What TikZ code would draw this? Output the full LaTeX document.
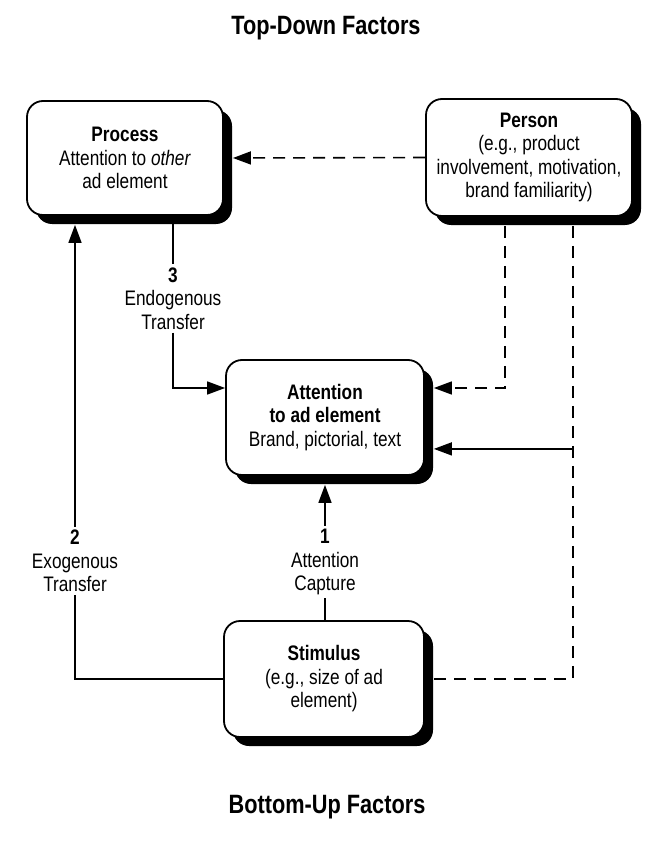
\documentclass[tikz,border=0pt]{standalone}
\usepackage{fontspec}
\setmainfont{Liberation Sans}[FakeStretch=0.82]
\usetikzlibrary{arrows.meta,shadows,calc}
\begin{document}
\begin{tikzpicture}[x=1pt,y=-1pt,
  font=\fontsize{21}{23.5}\selectfont,
  box/.style={draw, line width=1.8pt, rounded corners=16pt, fill=white, align=center, inner sep=0pt,
     drop shadow={shadow xshift=9pt, shadow yshift=-9pt, fill=black, opacity=1}},
  lab/.style={align=center, inner sep=3pt},
  conn/.style={line width=1.6pt},
  dconn/.style={line width=1.6pt, dash pattern=on 12pt off 8pt},
  tip/.style={-{Triangle[length=18pt,width=13pt]}},
  title/.style={font=\fontsize{26.5}{30}\selectfont\bfseries, anchor=base}]
\useasboundingbox (0,0) rectangle (647,842);
\node[title] (top) at (326,35) {Top-Down Factors};
\node[title] (bot) at (327,813) {Bottom-Up Factors};

\node[box, minimum width=196pt, minimum height=114pt] (proc) at (125,158)
  {\textbf{Process}\\Attention to \textit{other}\\ad element};
\node[box, minimum width=206pt, minimum height=117pt] (pers) at (529,157.5)
  {\textbf{Person}\\(e.g., product\\involvement, motivation,\\brand familiarity)};
\node[box, minimum width=198pt, minimum height=115pt] (att) at (325,417.5)
  {\textbf{Attention}\\\textbf{to ad element}\\Brand, pictorial, text};
\node[box, minimum width=200pt, minimum height=116pt] (stim) at (324,679)
  {\textbf{Stimulus}\\(e.g., size of ad\\element)};

\node[lab] (l3) at (173,298.5) {\textbf{3}\\Endogenous\\Transfer};
\node[lab] (l2) at (75,561) {\textbf{2}\\Exogenous\\Transfer};
\node[lab] (l1) at (325,562) {\textbf{1}\\Attention\\Capture};

\coordinate (pA) at ($(pers.south)+(-24,9)$);
\coordinate (pB) at ($(pers.south)+(44,9)$);
\coordinate (jB) at ($(pB)+(0,223)$);

% Person -> Process
\draw[dconn, tip] (pers.west) -- ($(proc.east)+(9,0)$);
% Endogenous transfer
\draw[conn] (proc.south -| l3) -- (l3.north);
\draw[conn, tip] (l3.south) |- (att.west |- 0,388);
% Exogenous transfer
\draw[conn, tip] (l2.north) -- ($(proc.south -| l2)+(0,9)$);
\draw[conn] (l2.south) |- (stim.west);
% Attention capture
\draw[conn] (stim.north -| l1) -- (l1.south);
\draw[conn, tip] (l1.north) -- ($(att.south -| l1)+(0,9)$);
% Person -> Attention
\draw[dconn, tip] (pA) |- ($(att.east |- 0,388)+(9,0)$);
\draw[dconn] (pB) |- ($(stim.east)+(9,0)$);
\draw[conn, tip] (jB) -- ($(att.east |- jB)+(9,0)$);
\end{tikzpicture}
\end{document}
